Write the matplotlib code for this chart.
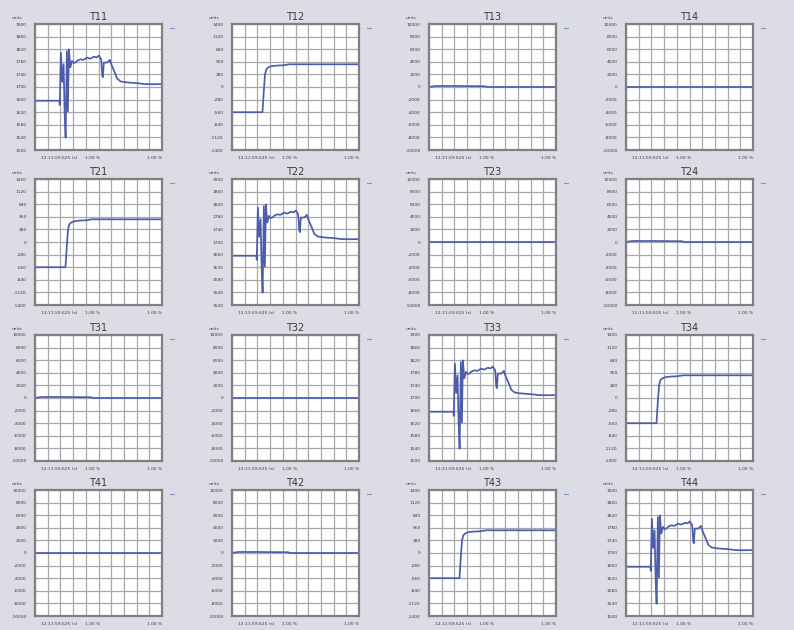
import matplotlib
matplotlib.use("Agg")
import matplotlib.pyplot as plt

# --- DATA ---
titles = ["T11", "T12", "T13", "T14",
          "T21", "T22", "T23", "T24",
          "T31", "T32", "T33", "T34",
          "T41", "T42", "T43", "T44"]

# which kind of trace sits in each panel
kinds = ["burst", "step", "bump", "flat",
         "step", "burst", "flat", "bump",
         "bump", "flat", "burst", "step",
         "flat", "bump", "step", "burst"]

burst_x = [0, 1.93, 1.95, 2.04, 2.14, 2.25, 2.33, 2.41, 2.51, 2.59, 2.67, 2.78,
           2.91, 3.05, 3.17, 3.35, 3.57, 3.8, 4.1, 4.35, 4.63, 4.85, 5.03, 5.21,
           5.30, 5.34, 5.42, 5.69, 5.9, 6.0, 6.22, 6.48, 6.75, 7.1, 7.54, 8.1,
           8.6, 9.3, 10]
burst_y = [3.91, 3.91, 3.58, 7.72, 5.4, 6.8, 3.05, 0.98, 7.85, 3.05, 7.98, 6.55,
           7.07, 6.9, 6.94, 7.1, 7.2, 7.15, 7.33, 7.25, 7.4, 7.35, 7.5, 7.2,
           5.9, 5.78, 6.94, 6.94, 7.15, 6.81, 6.3, 5.65, 5.44, 5.38, 5.34, 5.3,
           5.23, 5.22, 5.23]

# step trace
step_x = [0, 2.4, 2.5, 2.6, 2.7, 2.85, 3.1, 3.5, 4.0, 4.5, 5.0, 10]
step_y = [3.0, 3.0, 4.6, 6.0, 6.4, 6.55, 6.65, 6.7, 6.72, 6.8, 6.8, 6.8]

# near-zero trace with a small hump early on
bump_x = [0, 0.3, 0.5, 2.0, 4.4, 4.6, 10]
bump_y = [5.0, 5.05, 5.08, 5.08, 5.06, 5.0, 5.0]

flat_x = [0, 10]
flat_y = [5.0, 5.0]

traces = {"burst": (burst_x, burst_y), "step": (step_x, step_y),
          "bump": (bump_x, bump_y), "flat": (flat_x, flat_y)}

ytick_labels = {
    "burst": ["1500", "1540", "1580", "1620", "1660", "1700",
              "1740", "1780", "1820", "1860", "1900"],
    "step": ["-1400", "-1120", "-840", "-560", "-280", "0",
             "280", "560", "840", "1120", "1400"],
    "bump": ["-10000", "-8000", "-6000", "-4000", "-2000", "0",
             "2000", "4000", "6000", "8000", "10000"],
    "flat": ["-10000", "-8000", "-6000", "-4000", "-2000", "0",
             "2000", "4000", "6000", "8000", "10000"],
}
xtick_labels = ["12:11:59.625 (s)", "1.00 %", "1.00 %"]

# --- LAYOUT (pixels on a 794x630 canvas) ---
W, H = 794, 630
col_left = [35, 232, 429, 626]
row_top = [24, 179, 335, 490]
pw, ph = 127, 126

bg = "#dcdce4"
line_col = "#4d5cab"
grid_col = "#a8a8ac"
frame_col = "#808084"
txt_col = "#3a3a3a"

fig = plt.figure(figsize=(W / 100, H / 100), dpi=100)
fig.patch.set_facecolor(bg)

for i, name in enumerate(titles):
    r, c = divmod(i, 4)
    ax = fig.add_axes([col_left[c] / W, 1 - (row_top[r] + ph) / H, pw / W, ph / H])
    ax.set_facecolor("white")
    xs, ys = traces[kinds[i]]
    ax.plot(xs, ys, color=line_col, linewidth=1.25)
    ax.set_xlim(0, 10)
    ax.set_ylim(0, 10)
    ax.set_xticks(range(11))
    ax.set_yticks(range(11))
    ax.set_yticklabels(ytick_labels[kinds[i]], fontsize=3.2, color=txt_col)
    ax.set_xticklabels([])
    ax.tick_params(length=0, pad=6)
    ax.grid(True, color=grid_col, linewidth=0.9)
    for s in ax.spines.values():
        s.set_color(frame_col)
        s.set_linewidth(1.6)
    ax.set_title(name, fontsize=7, color=txt_col, pad=3)
    # x labels under the frame
    for xp, lab, ha in zip([0.05, 0.45, 1.0], xtick_labels, ["left", "center", "right"]):
        ax.text(xp, -0.05, lab, transform=ax.transAxes, fontsize=3.2,
                color=txt_col, ha=ha, va="top")
    # unit header above y labels
    ax.text(-0.1, 1.035, "units", transform=ax.transAxes, fontsize=3.2,
            color=txt_col, ha="right", va="bottom")
    # tiny legend mark at the top right
    ax.plot([1.06, 1.095], [0.97, 0.97], transform=ax.transAxes, color="#8a92c4",
            linewidth=0.8, clip_on=False)

fig.savefig("out.png", dpi=100, facecolor=bg)
